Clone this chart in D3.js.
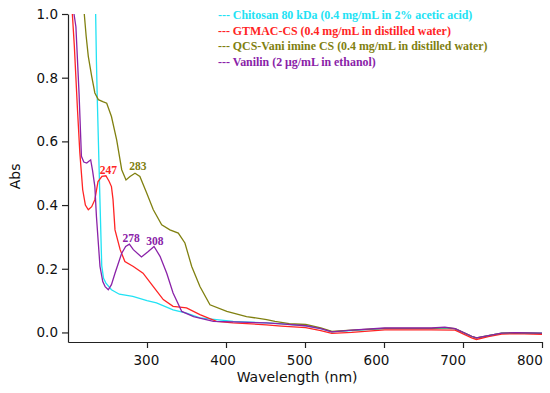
<!DOCTYPE html>
<html>
<head>
<meta charset="utf-8">
<script src="https://cdn.jsdelivr.net/npm/d3@7"></script>
<style>
  body { margin: 0; background: #fff; }
  .axis path, .axis line { stroke: #222; stroke-width: 1.2px; }
  .axis text { font-family: "DejaVu Sans", sans-serif; font-size: 13.5px; fill: #111; }
  .axis-label { font-family: "DejaVu Sans", sans-serif; font-size: 14px; fill: #111; }
  .legend text, .peak { font-family: "Liberation Serif", serif; font-weight: bold; }
</style>
</head>
<body>
<div id="chart"></div>
<script>
// UV-vis spectra, values: [wavelength nm, absorbance]
const chitosan = [[235,1.0],[236,0.85],[237,0.74],[239,0.55],[240.5,0.41],[242.7,0.21],[245,0.17],[248,0.155],
  [255,0.134],[265,0.12],[282,0.113],[300,0.1],[312,0.093],[333,0.071],[350,0.061],[367,0.046],[409,0.035],
  [451,0.03],[470,0.027],[501,0.021],[520,0.012],[534,0.002],[559,0.006],[601,0.012],[660,0.012],[677,0.014],
  [690,0.011],[711,-0.013],[717,-0.018],[732,-0.01],[749,-0.002],[766,-0.001],[800,-0.002]];

const gtmac = [[205.5,1.0],[208,0.9],[212,0.7],[215,0.564],[218.6,0.448],[222,0.4],[225.7,0.385],[230,0.395],
  [234,0.417],[238,0.474],[243,0.49],[248,0.492],[252,0.475],[255,0.458],[257,0.417],[259.5,0.322],[266,0.26],
  [272,0.223],[282.7,0.207],[295,0.186],[308,0.144],[320.6,0.103],[333,0.082],[350,0.077],[367,0.056],[388,0.035],
  [409,0.03],[451,0.024],[470,0.02],[501,0.015],[520,0.006],[534,-0.003],[559,0.0],[601,0.008],[660,0.008],
  [690,0.007],[711,-0.017],[717,-0.022],[732,-0.013],[749,-0.005],[766,-0.004],[800,-0.006]];

const qcsVani = [[220.6,1.0],[223,0.93],[225.7,0.867],[230,0.804],[234,0.752],[238.4,0.731],[244,0.725],[249,0.72],
  [255,0.678],[261.6,0.605],[268,0.511],[273.4,0.479],[278.5,0.49],[284.8,0.5],[291,0.49],[299.6,0.438],[308,0.385],
  [318.6,0.338],[329,0.322],[339.6,0.312],[348,0.281],[356.6,0.207],[367,0.144],[379.7,0.087],[401,0.066],
  [426,0.05],[451.5,0.04],[462,0.035],[480,0.028],[501,0.025],[520,0.014],[534,0.003],[559,0.007],[601,0.013],
  [660,0.013],[677,0.015],[690,0.012],[711,-0.012],[717,-0.017],[732,-0.01],[749,-0.002],[766,-0.001],[800,-0.003]];

const vanilin = [[207.6,1.0],[210,0.96],[214,0.75],[217,0.553],[220,0.535],[223.7,0.532],[228.7,0.542],[231,0.51],
  [234,0.458],[236,0.364],[240.5,0.207],[244,0.16],[247,0.144],[251,0.134],[255,0.15],[259.5,0.186],[268,0.249],
  [273,0.27],[277.7,0.277],[282.7,0.26],[293,0.237],[301.6,0.254],[308.9,0.27],[316.5,0.239],[325,0.186],
  [333,0.124],[344,0.066],[359,0.05],[384,0.035],[409,0.033],[451,0.03],[470,0.027],[501,0.021],[520,0.012],
  [534,0.002],[559,0.007],[601,0.014],[660,0.014],[677,0.017],[690,0.012],[711,-0.012],[717,-0.017],[732,-0.01],
  [749,-0.002],[766,-0.001],[800,-0.002]];

const seriesNames = ["--- Chitosan 80 kDa (0.4 mg/mL in 2% acetic acid)",
  "--- GTMAC-CS (0.4 mg/mL in distilled water)",
  "--- QCS-Vani imine CS (0.4 mg/mL in distilled water)",
  "--- Vanilin (2 \u03bcg/mL in ethanol)"];
const seriesColors = ["#22e2f4", "#ff2424", "#808010", "#8a22a8"];
const seriesData = [chitosan, gtmac, qcsVani, vanilin];

// peak annotations: [wavelength, absorbance at label baseline, text, series index]
const peaks = [[251, 0.499, "247", 1], [288.4, 0.51, "283", 2], [280, 0.283, "278", 3], [310, 0.276, "308", 3]];

const xTicks = [300, 400, 500, 600, 700, 800];
const yTicks = [0.0, 0.2, 0.4, 0.6, 0.8, 1.0];

let margin = {top: 14, right: 8, bottom: 51, left: 68},
    width = 550 - margin.left - margin.right,
    height = 393 - margin.top - margin.bottom;

let x = d3.scaleLinear().domain([200, 800]).range([0, width]);
let y = d3.scaleLinear().domain([-0.03, 1.0]).range([height, 0]);

let svg = d3.select("#chart").append("svg")
    .attr("width", 550)
    .attr("height", 393)
    .append("g")
    .attr("transform", "translate(" + margin.left + "," + margin.top + ")");

let xAxis = d3.axisBottom(x).tickValues(xTicks).tickFormat(d3.format("d")).tickSize(6).tickSizeOuter(0);
let yAxis = d3.axisLeft(y).tickValues(yTicks).tickFormat(d3.format(".1f")).tickSize(6).tickSizeOuter(0);

// the original's tick labels drift a little left of their ticks
svg.append("g")
    .attr("class", "x axis")
    .attr("transform", "translate(0," + height + ")")
    .call(xAxis)
    .selectAll("text")
    .attr("dy", "1.0em")
    .attr("dx", function(d) { return -(d - 250) * 0.023; });

svg.append("g")
    .attr("class", "y axis")
    .call(yAxis)
    .selectAll("text").attr("x", -10);

svg.append("text")
    .attr("class", "axis-label")
    .attr("x", x(490))
    .attr("y", height + 40)
    .style("text-anchor", "middle")
    .text("Wavelength (nm)");

svg.append("text")
    .attr("class", "axis-label")
    .attr("transform", "rotate(-90)")
    .attr("x", -(y(0.49)))
    .attr("y", -48)
    .style("text-anchor", "middle")
    .text("Abs");

let line = d3.line()
    .x(function(d) { return x(d[0]); })
    .y(function(d) { return y(d[1]); });

let plot = svg.append("g");
seriesData.forEach(function(d, i) {
    plot.append("path")
        .datum(d)
        .attr("fill", "none")
        .attr("stroke", seriesColors[i])
        .attr("stroke-width", 1.3)
        .attr("d", line);
});

svg.selectAll(".peak")
    .data(peaks)
    .enter().append("text")
    .attr("class", "peak")
    .attr("x", function(d) { return x(d[0]); })
    .attr("y", function(d) { return y(d[1]); })
    .style("text-anchor", "middle")
    .style("font-size", "11.5px")
    .style("fill", function(d) { return seriesColors[d[3]]; })
    .text(function(d) { return d[2]; });

let legend = svg.selectAll(".legend")
    .data(seriesNames)
    .enter().append("g")
    .attr("class", "legend")
    .attr("transform", function(d, i) { return "translate(" + (218 - margin.left) + "," + (5 + i * 15.6) + ")"; });

legend.append("text")
    .style("font-size", "11.9px")
    .style("fill", function(d, i) { return seriesColors[i]; })
    .text(function(d) { return d; });
</script>
</body>
</html>
